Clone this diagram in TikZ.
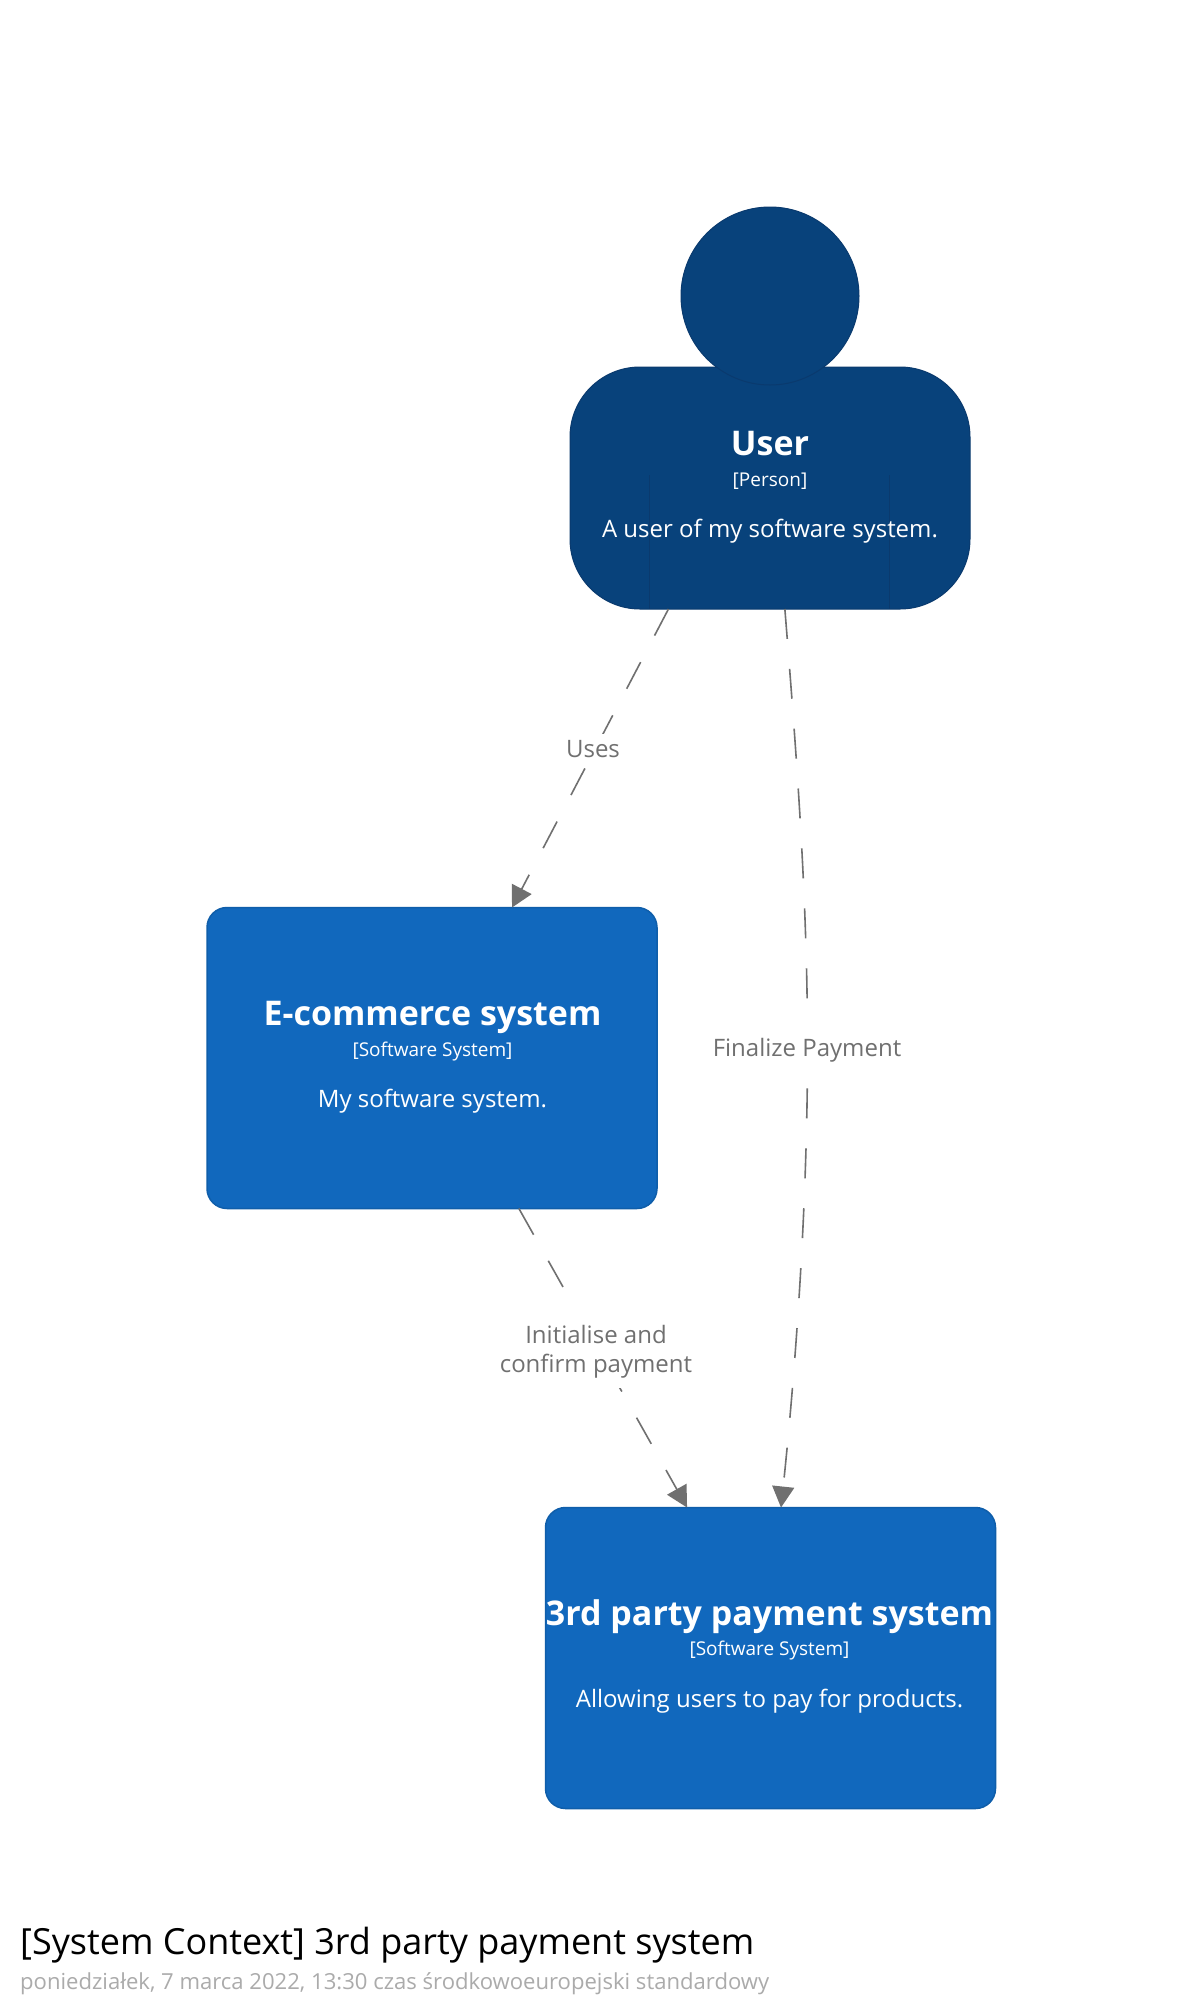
\documentclass[tikz,border=0pt]{standalone}
\usepackage{fontspec}
\setmainfont{Open Sans}
\usetikzlibrary{arrows.meta}
\definecolor{personfill}{HTML}{08427B}
\definecolor{personline}{HTML}{0A3A6E}
\definecolor{sysfill}{HTML}{1168BD}
\definecolor{sysline}{HTML}{0F5EAA}
\definecolor{linkgrey}{HTML}{707070}
\definecolor{subgrey}{HTML}{ABABAB}
\tikzset{
  personpart/.style={draw=personline,fill=personfill,line width=1pt,inner sep=0pt,outer sep=0pt},
  sysbox/.style={rectangle,draw=sysline,fill=sysfill,line width=1.5pt,rounded corners=20pt,minimum width=450pt,minimum height=301pt,inner sep=0pt,outer sep=0pt},
  nametext/.style={anchor=base,inner sep=0pt,text=white,font=\fontsize{34}{40}\selectfont\bfseries},
  typetext/.style={anchor=base,inner sep=0pt,text=white,font=\fontsize{19}{23}\selectfont},
  desctext/.style={anchor=base,inner sep=0pt,text=white,font=\fontsize{24}{29}\selectfont},
  linklabel/.style={fill=white,text=linkgrey,align=center,inner xsep=4pt,inner ysep=6pt,font=\fontsize{24}{28.5}\selectfont},
  link/.style={draw=linkgrey,line width=1.6pt,dash pattern=on 30pt off 30pt,-{Triangle[length=21pt,width=22pt,fill=linkgrey]}}
}
\begin{document}
\begin{tikzpicture}[x=1pt,y=-1pt]
\useasboundingbox (0,0) rectangle (1204,2016);
\fill[white] (0,0) rectangle (1204,2016);
% person
\node[personpart,rectangle,rounded corners=70pt,minimum width=400pt,minimum height=242pt] (userbody) at (770,488) {};
\node[personpart,circle,minimum size=178pt] (userhead) at (770,296) {};
\coordinate (armLtop) at (649,475);
\coordinate (armRtop) at (889,475);
\draw[personline,line width=0.8pt] (armLtop) -- (armLtop |- userbody.south);
\draw[personline,line width=0.8pt] (armRtop) -- (armRtop |- userbody.south);
\node[nametext] (username) at (770,455) {User};
\node[typetext] (usertype) at (770,486) {[Person]};
\node[desctext] (userdesc) at (770,537) {A user of my software system.};
% systems
\node[sysbox] (ecom) at (432,1058) {};
\node[nametext] (ecomname) at (432.5,1025) {E-commerce system};
\node[typetext] (ecomtype) at (432.5,1056) {[Software System]};
\node[desctext] (ecomdesc) at (432.5,1107) {My software system.};
\node[sysbox] (pay) at (770.5,1658) {};
\node[nametext] (payname) at (769.5,1625) {3rd party payment system};
\node[typetext] (paytype) at (769.5,1655.5) {[Software System]};
\node[desctext] (paydesc) at (769.5,1707) {Allowing users to pay for products.};
% connectors
\draw[link] (userbody.-130.7) -- (ecom.62.4);
\draw[link] (ecom.-60.8) -- (pay.119.5);
\coordinate (finalizemid) at (807.5,1048);
\draw[link] (userbody.-83.6) .. controls (797,760) and (807.5,900) .. (finalizemid) .. controls (807.5,1195) and (797,1355) .. (pay.86);
% link labels
\node[linklabel] (lbluses) at (593,749) {Uses};
\node[linklabel,inner ysep=14pt] (lblfinal) at (807,1050) {Finalize Payment};
\node[linklabel,inner ysep=10pt] (lblinit) at (596,1349.5) {\rule{0pt}{23pt}Initialise and\\confirm payment};
% title
\node[anchor=base west,inner sep=0pt,text=black,font=\fontsize{36}{42}\selectfont] (title) at (20,1954) {[System Context] 3rd party payment system};
\node[anchor=base west,inner sep=0pt,text=subgrey,font=\fontsize{22.08}{26}\selectfont] (subtitle) at (20,1989.5) {poniedziałek, 7 marca 2022, 13:30 czas środkowoeuropejski standardowy};
\end{tikzpicture}
\end{document}
